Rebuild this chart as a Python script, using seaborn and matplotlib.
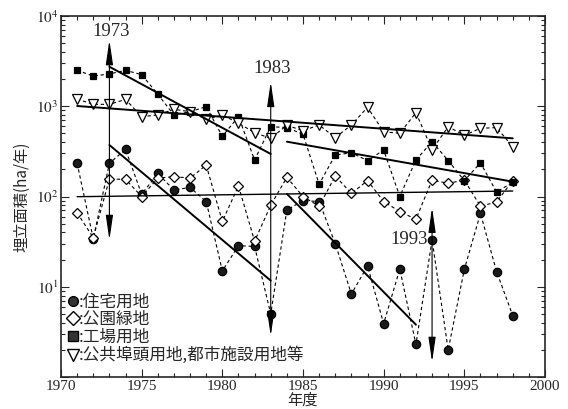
import numpy as np
import pandas as pd
import matplotlib
matplotlib.use("Agg")
import matplotlib.pyplot as plt
from matplotlib.lines import Line2D
from matplotlib.ticker import MultipleLocator, LogLocator, NullFormatter
import seaborn as sns

# ---------------- data ----------------
years = list(range(1971, 1999))
residential = [233, 34, 233, 333, 106, 180, 118, 126, 88, 15, 28.5, 28, 5.0, 71,
               90, 88, 30, 8.3, 17, 3.9, 15.7, 2.3, 33, 2.0, 15.6, 65, 14.7, 4.8]
park = [66, 35, 156, 155, 100, 160, 166, 160, 223, 53, 131, 32, 80, 163,
        100, 78, 169, 108, 150, 88, 68, 56, 152, 140, 152, 78, 87, 150]
factory = [2500, 2160, 2280, 2500, 2240, 1360, 800, 870, 990, 465, 767, 254, 594, 580,
           490, 137, 288, 305, 250, 327, 100, 254, 405, 250, 150, 236, 112, 144]
public = [1200, 1050, 1050, 1190, 767, 800, 925, 870, 717, 800, 650, 509, 441, 615,
          536, 620, 449, 620, 973, 522, 501, 849, 330, 594, 476, 570, 580, 356]

series_names = [":住宅用地", ":公園緑地", ":工場用地", ":公共埠頭用地,都市施設用地等"]

# trend lines (start/end)
trend_years = [[1973, 1983], [1984, 1998], [1973, 1983], [1984, 1992], [1971, 1998], [1971, 1998]]
trend_values = [[2740, 296], [405, 146], [372, 11.7], [107, 3.8], [1006, 441], [99.5, 115]]

# event arrows
event_years = [1973, 1983, 1993]
event_top = [5400, 1860, 75]
event_bottom = [33, 2.85, 1.47]
event_label_y = [6650, 2590, 33.8]

xtick_values = [1970, 1975, 1980, 1985, 1990, 1995, 2000]
ytick_values = [1, 10, 100, 1000, 10000]
ytick_labels = ["", r"$10^1$", r"$10^2$", r"$10^3$", r"$10^4$"]

# ---------------- style ----------------
sns.set_style("ticks")
plt.rcParams["font.family"] = ["Liberation Serif", "DejaVu Serif"]
plt.rcParams["mathtext.fontset"] = "stix"
cjk = ["Noto Sans CJK JP", "DejaVu Sans"]

fig = plt.figure(figsize=(5.68, 4.09), dpi=100)
ax = fig.add_axes([0.1074, 0.0782, 0.8521, 0.8827])
ax.set_yscale("log")

df = pd.DataFrame({"year": years, "res": residential, "park": park,
                   "factory": factory, "public": public})

common = dict(color="black", linestyle=(0, (3, 2.5)), linewidth=0.8,
              markeredgecolor="black", markeredgewidth=0.9)
styles = [
    ("res", dict(marker="o", markersize=6, markerfacecolor="#1a1a1a")),
    ("park", dict(marker="D", markersize=5.5, markerfacecolor="white")),
    ("factory", dict(marker="s", markersize=4.5, markerfacecolor="black")),
    ("public", dict(marker="v", markersize=7.2, markerfacecolor="white")),
]
for col, st in styles:
    sns.lineplot(data=df, x="year", y=col, ax=ax, legend=False, **common, **st)

for i, (ty, tv) in enumerate(zip(trend_years, trend_values)):
    lw = 1.0 if i == 5 else 1.4
    sns.lineplot(x=ty, y=tv, ax=ax, color="black", linewidth=lw, legend=False)

for yr, top, bot in zip(event_years, event_top, event_bottom):
    ax.annotate("", xy=(yr, top), xytext=(yr, bot),
                arrowprops=dict(arrowstyle="<|-|>,head_length=1.5,head_width=0.22",
                                color="black", lw=0.8, shrinkA=0, shrinkB=0,
                                mutation_scale=10))
for yr, ly in zip(event_years, event_label_y):
    if yr == 1993:
        ax.text(yr - 0.25, ly, str(yr), ha="right", va="center", fontsize=13.5)
    else:
        ax.text(yr + 0.1, ly, str(yr), ha="center", va="center", fontsize=13.5)

ax.set_xlim(1970, 2000)
ax.set_ylim(1, 10000)
ax.set_xticks(xtick_values)
ax.set_xticklabels([str(v) for v in xtick_values], fontsize=11)
ax.xaxis.set_minor_locator(MultipleLocator(1))
ax.set_yticks(ytick_values)
ax.set_yticklabels(ytick_labels, fontsize=11)
ax.yaxis.set_minor_locator(LogLocator(base=10, subs=np.arange(2, 10)))
ax.yaxis.set_minor_formatter(NullFormatter())
ax.tick_params(which="both", direction="in", top=True, right=True, width=0.8)
ax.tick_params(which="major", length=6, pad=2)
ax.tick_params(which="minor", length=3)
for s in ax.spines.values():
    s.set_linewidth(1.2)
    s.set_visible(True)

ax.set_xlabel("年度", family=cjk, fontsize=11, labelpad=-1)
ax.set_ylabel("埋立面積(ha/年)", family=cjk, fontsize=11, labelpad=4)

handles = [
    Line2D([], [], linestyle="none", marker="o", markersize=7, markerfacecolor="#333333", markeredgecolor="black"),
    Line2D([], [], linestyle="none", marker="D", markersize=7, markerfacecolor="white", markeredgecolor="black"),
    Line2D([], [], linestyle="none", marker="s", markersize=7, markerfacecolor="#333333", markeredgecolor="black"),
    Line2D([], [], linestyle="none", marker="v", markersize=9, markerfacecolor="white", markeredgecolor="black"),
]
ax.legend(handles, series_names, loc="lower left", bbox_to_anchor=(0.01, 0.035),
          frameon=False, prop={"family": cjk, "size": 12}, handlelength=0.8,
          handletextpad=0.0, labelspacing=0.05, borderpad=0, borderaxespad=0)

fig.savefig("out.png", dpi=100)
